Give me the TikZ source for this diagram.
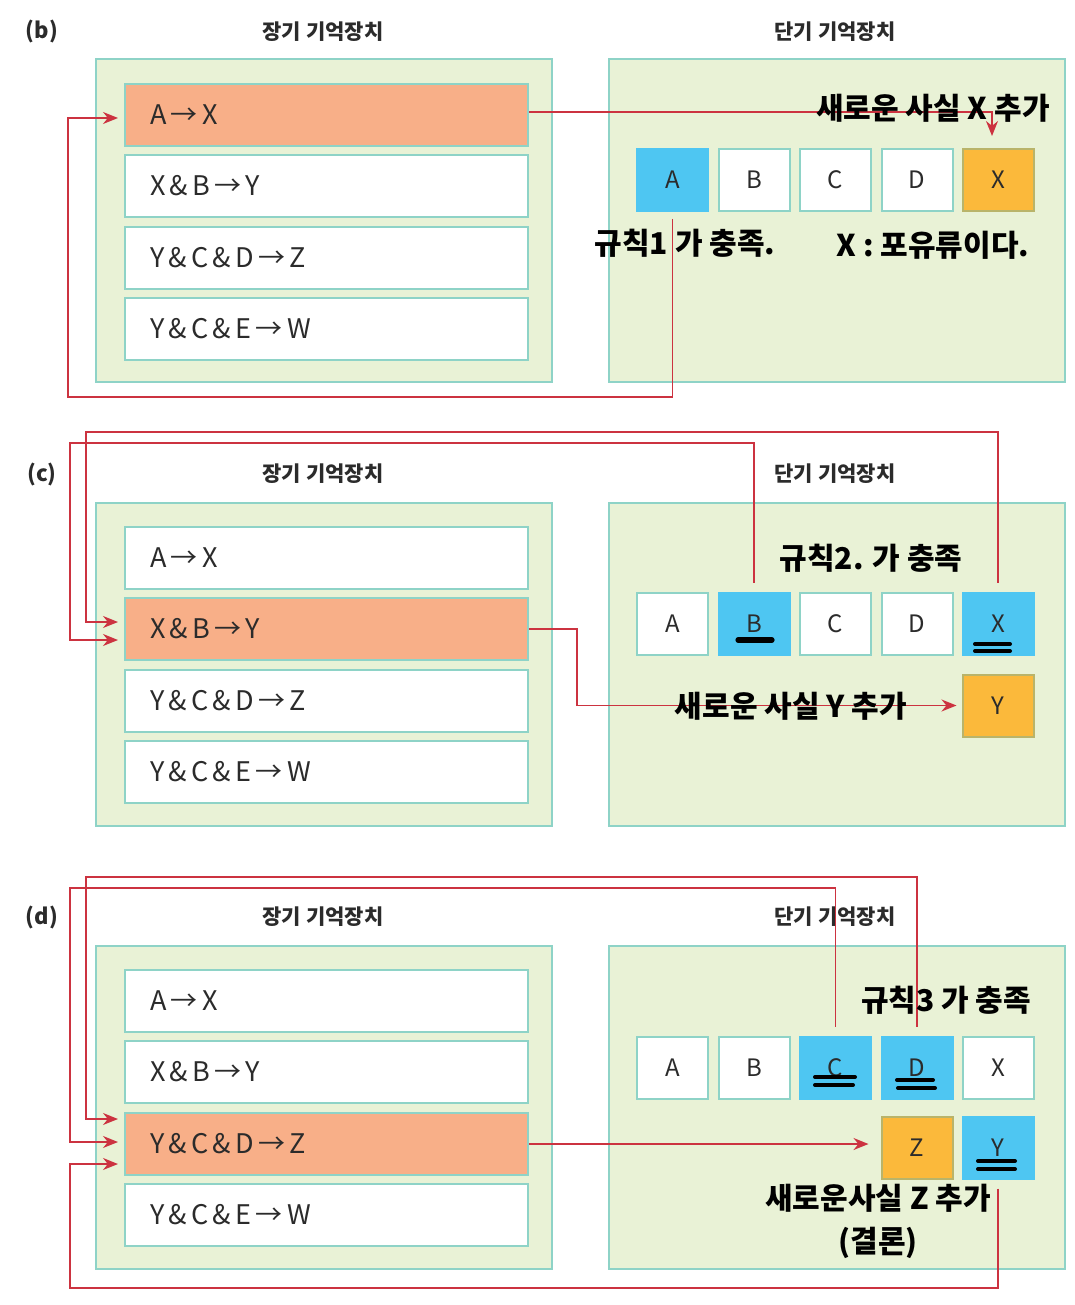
\documentclass[tikz,border=0pt]{standalone}
\usepackage{fontspec}
\setmainfont{Noto Sans CJK KR}
\usetikzlibrary{arrows.meta,calc}
\definecolor{outerc}{HTML}{E9F2D6}
\definecolor{tealc}{HTML}{8ED3C7}
\definecolor{salmonc}{HTML}{F8AF88}
\definecolor{bluecol}{HTML}{4EC6F2}
\definecolor{orangec}{HTML}{FBB93B}
\definecolor{olivec}{HTML}{B9B46A}
\definecolor{redc}{HTML}{CC3340}
\definecolor{txt}{HTML}{2B2B2B}
\newcommand\rsp{\hspace{0.16em}}
\begin{document}
\begin{tikzpicture}[x=0.5pt,y=-0.5pt,
  outerbox/.style={draw=tealc, fill=outerc, line width=1pt, minimum width=228pt, minimum height=161.5pt, inner sep=0pt},
  rulebox/.style={draw=tealc, fill=white, line width=1pt, minimum width=201.5pt, minimum height=31pt, inner xsep=12.5pt, inner ysep=0pt, text width=176.5pt, align=left, font=\fontsize{13.5pt}{15pt}\selectfont, text=txt},
  hot/.style={fill=salmonc},
  cell/.style={draw=tealc, fill=white, line width=1pt, minimum width=35.5pt, minimum height=31pt, inner sep=0pt, font=\fontsize{12pt}{14pt}\selectfont, text=txt},
  bluecell/.style={fill=bluecol, draw=bluecol},
  newcell/.style={fill=orangec, draw=olivec},
  title/.style={font=\bfseries\fontsize{10.5pt}{12pt}\selectfont, text=txt},
  plabel/.style={font=\bfseries\fontsize{11pt}{13pt}\selectfont, text=txt},
  hand/.style={font=\bfseries\fontsize{15pt}{21.5pt}\selectfont, text=black, inner sep=0pt},
  redl/.style={draw=redc, line width=0.8pt},
  redarrow/.style={redl, -{Stealth[length=7.5pt,width=6pt]}},
  ul/.style={draw=black, line width=2pt, line cap=round},
]
\useasboundingbox (0,0) rectangle (1075,1305);

% ---------------- panel (b) ----------------
\node[plabel] (b-lab) at (42,32) {(b)};
\node[title] (b-lt) at (323,32) {장기 기억장치};
\node[title] (b-st) at (835,32) {단기 기억장치};
\node[outerbox] (b-L) at (324,220.5) {};
\node[outerbox] (b-R) at (836.5,220.5) {};
\node[rulebox,hot] (b-r1) at (326.5,115) {A\rsp→\rsp X};
\node[rulebox] (b-r2) at (326.5,186) {X\rsp\&\rsp B\rsp→\rsp Y};
\node[rulebox] (b-r3) at (326.5,258) {Y\rsp\&\rsp C\rsp\&\rsp D\rsp→\rsp Z};
\node[rulebox] (b-r4) at (326.5,329) {Y\rsp\&\rsp C\rsp\&\rsp E\rsp→\rsp W};
\node[cell,bluecell] (b-A) at (672.5,180) {A};
\node[cell] (b-B) at (754,180) {B};
\node[cell] (b-C) at (835.5,180) {C};
\node[cell] (b-D) at (917,180) {D};
\node[cell,newcell] (b-X) at (998,180) {X};
\coordinate (b-t1) at (68,397);
\coordinate (b-t0) at (992,0);
\draw[redarrow, shorten >=6pt] ([yshift=1.5pt]b-r1.east) -| (b-t0 |- b-X.north);
\draw[redarrow, shorten <=3.5pt, shorten >=3pt] (b-A.south) |- (b-t1) |- ([yshift=-1.5pt]b-r1.west);
\node[hand] (b-h1) at (933,108) {새로운 사실 X 추가};
\node[hand] (b-h2) at (685,243) {규칙1 가 충족.};
\node[hand] (b-h3) at (933,245) {X : 포유류이다.};

% ---------------- panel (c) ----------------
\node[plabel] (c-lab) at (42,474) {(c)};
\node[title] (c-lt) at (323,474) {장기 기억장치};
\node[title] (c-st) at (835,474) {단기 기억장치};
\node[outerbox] (c-L) at (324,664) {};
\node[outerbox] (c-R) at (836.5,664) {};
\node[rulebox] (c-r1) at (326.5,558) {A\rsp→\rsp X};
\node[rulebox,hot] (c-r2) at (326.5,629) {X\rsp\&\rsp B\rsp→\rsp Y};
\node[rulebox] (c-r3) at (326.5,701) {Y\rsp\&\rsp C\rsp\&\rsp D\rsp→\rsp Z};
\node[rulebox] (c-r4) at (326.5,772) {Y\rsp\&\rsp C\rsp\&\rsp E\rsp→\rsp W};
\node[cell] (c-A) at (672.5,623.5) {A};
\node[cell,bluecell] (c-B) at (754,623.5) {B};
\node[cell] (c-C) at (835.5,623.5) {C};
\node[cell] (c-D) at (917,623.5) {D};
\node[cell,bluecell] (c-X) at (998,623.5) {X};
\node[cell,newcell] (c-Y) at (998,705.5) {Y};
\coordinate (c-t1) at (86,432);
\coordinate (c-t2) at (70,443);
\draw[redarrow, shorten <=4.5pt, shorten >=3pt] (c-X.north) |- (c-t1) |- ([yshift=3.5pt]c-r2.west);
\draw[redarrow, shorten <=4.5pt, shorten >=3pt] (c-B.north) |- (c-t2) |- ([yshift=-5.5pt]c-r2.west);
\draw[redarrow, shorten >=2.5pt] (c-r2.east) -- ++(48,0) |- (c-Y.west);
\draw[ul, line width=2.6pt] (738,640) -- (772,640);
\draw[ul] (975,644) -- (1010,644);
\draw[ul] (975,651) -- (1010,651);
\node[hand] (c-h1) at (871,558) {규칙2. 가 충족};
\node[hand] (c-h2) at (791,706) {새로운 사실 Y 추가};

% ---------------- panel (d) ----------------
\node[plabel] (d-lab) at (42,917) {(d)};
\node[title] (d-lt) at (323,917) {장기 기억장치};
\node[title] (d-st) at (835,917) {단기 기억장치};
\node[outerbox] (d-L) at (324,1107.5) {};
\node[outerbox] (d-R) at (836.5,1107.5) {};
\node[rulebox] (d-r1) at (326.5,1001) {A\rsp→\rsp X};
\node[rulebox] (d-r2) at (326.5,1072) {X\rsp\&\rsp B\rsp→\rsp Y};
\node[rulebox,hot] (d-r3) at (326.5,1144) {Y\rsp\&\rsp C\rsp\&\rsp D\rsp→\rsp Z};
\node[rulebox] (d-r4) at (326.5,1215) {Y\rsp\&\rsp C\rsp\&\rsp E\rsp→\rsp W};
\node[cell] (d-A) at (672.5,1067.5) {A};
\node[cell] (d-B) at (754,1067.5) {B};
\node[cell,bluecell] (d-C) at (835.5,1067.5) {C};
\node[cell,bluecell] (d-D) at (917,1067.5) {D};
\node[cell] (d-X) at (998,1067.5) {X};
\node[cell,newcell] (d-Z) at (917,1147.5) {Z};
\node[cell,bluecell] (d-Y) at (998,1147.5) {Y};
\coordinate (d-t1) at (86,877);
\coordinate (d-t2) at (70,888);
\coordinate (d-t3) at (70,1288);
\draw[redarrow, shorten <=4.5pt, shorten >=3pt] (d-D.north) |- (d-t1) |- ([yshift=12.5pt]d-r3.west);
\draw[redarrow, shorten <=4.5pt, shorten >=3pt] (d-C.north) |- (d-t2) |- ([yshift=1pt]d-r3.west);
\draw[redarrow, shorten <=4.5pt, shorten >=3pt] (d-Y.south) |- (d-t3) |- ([yshift=-10pt]d-r3.west);
\draw[redarrow, shorten >=6pt] (d-r3.east) -- (d-r3.east -| d-Z.west);
\draw[ul] (815,1077) -- (855,1077);
\draw[ul] (815,1085) -- (853,1085);
\draw[ul] (897,1080) -- (933,1080);
\draw[ul] (898,1088) -- (935,1088);
\draw[ul] (978,1161) -- (1015,1161);
\draw[ul] (978,1169) -- (1015,1169);
\node[hand] (d-h1) at (946,1000) {규칙3 가 충족};
\node[hand, align=center] (d-h2) at (878,1221) {새로운사실 Z 추가\\(결론)};
\end{tikzpicture}
\end{document}
